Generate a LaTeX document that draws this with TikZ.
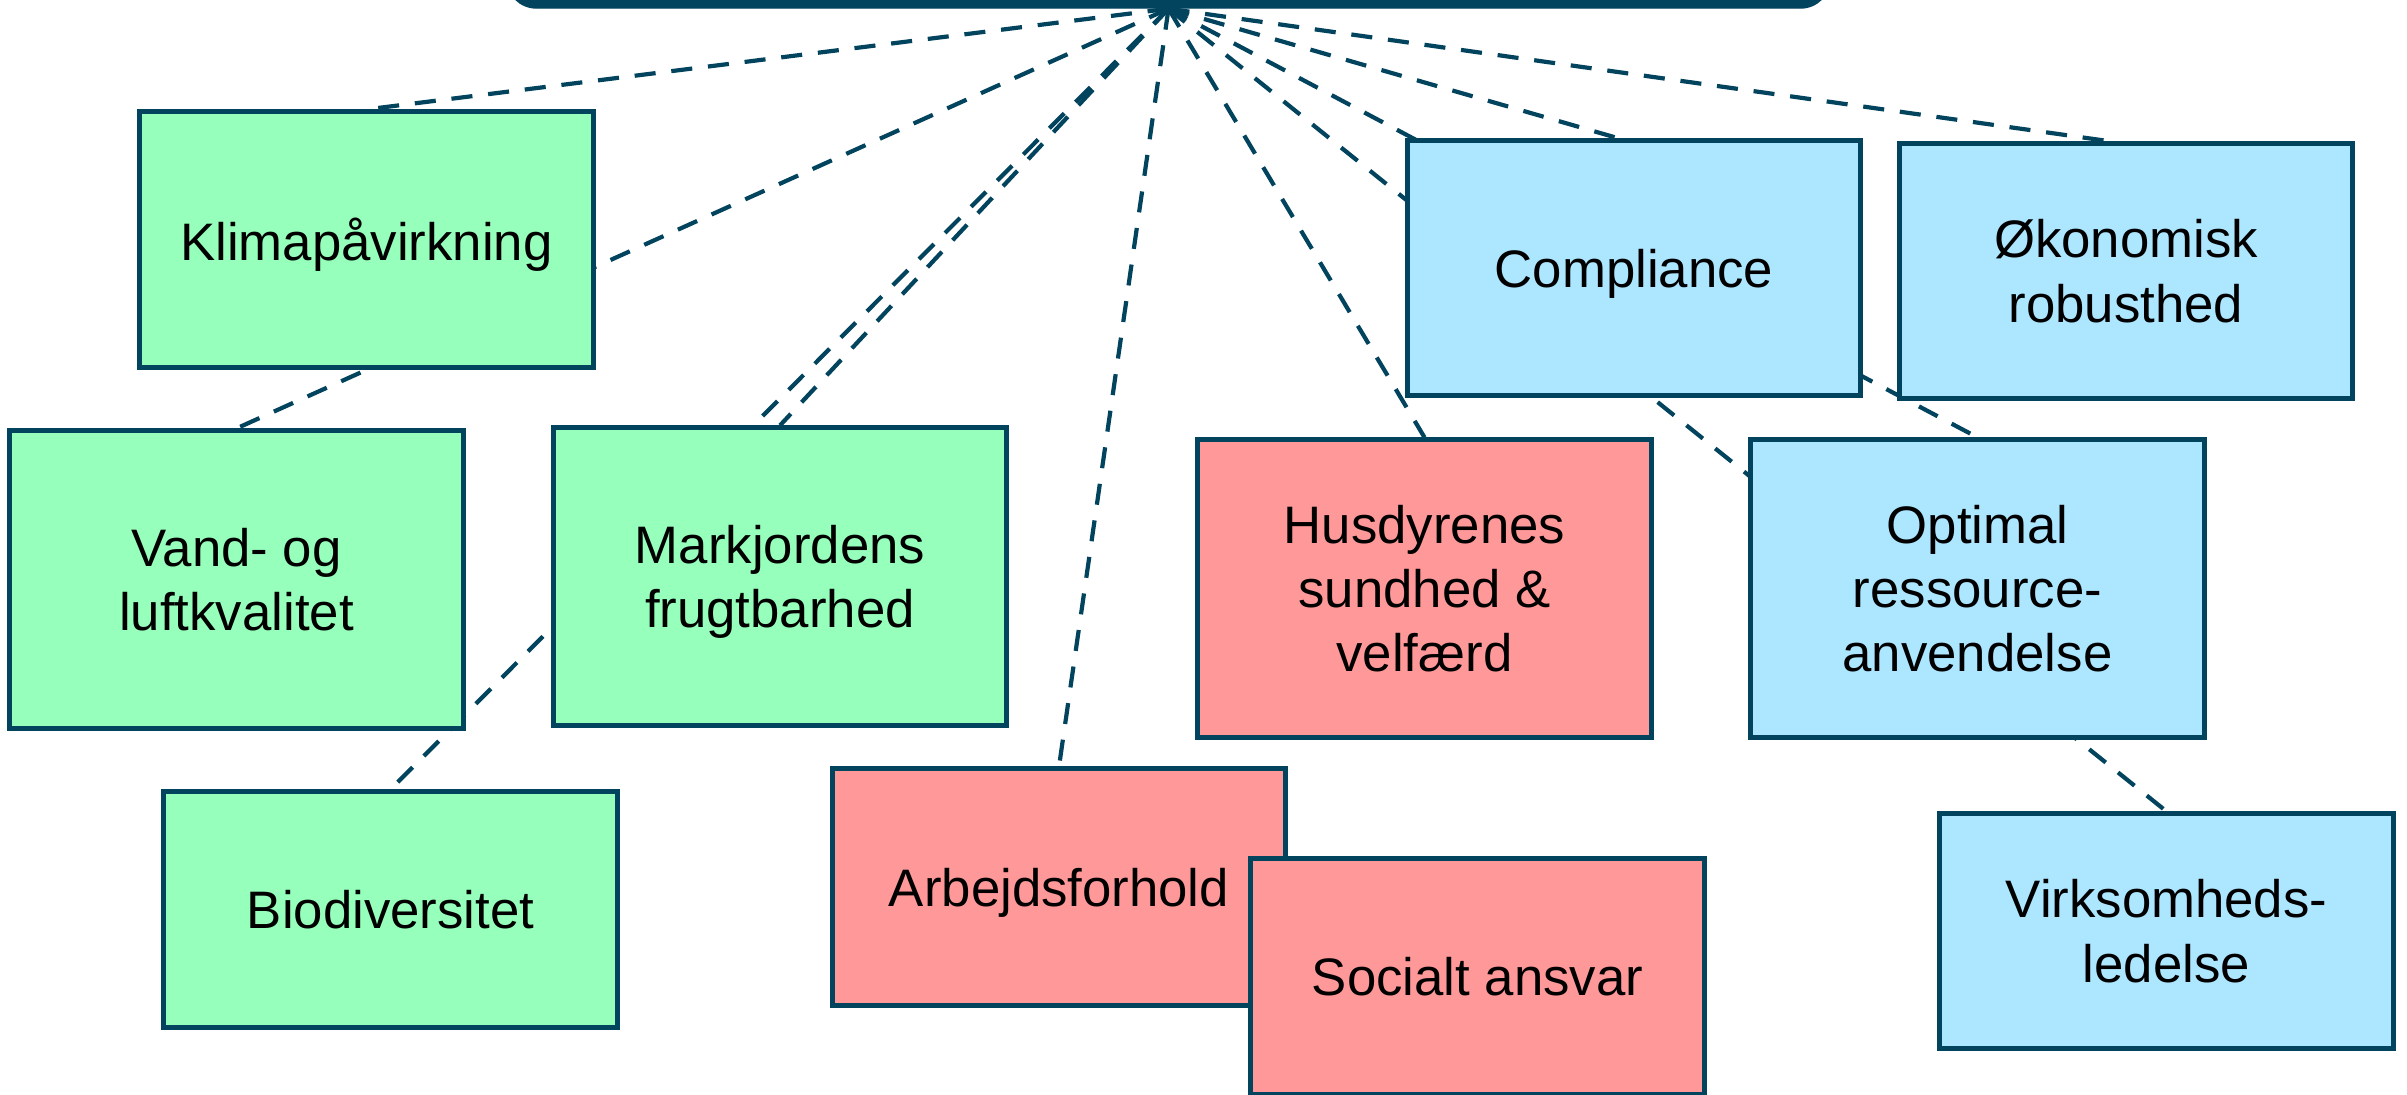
\documentclass[tikz,border=0pt]{standalone}
\usepackage{fontspec}
\setmainfont{Liberation Sans}
\usetikzlibrary{backgrounds,calc}
\definecolor{edgeblue}{HTML}{02445E}
\definecolor{envgreen}{HTML}{96FFBB}
\definecolor{socred}{HTML}{FF9999}
\definecolor{ecoblue}{HTML}{ADE6FF}
\begin{document}
\begin{tikzpicture}[x=0.01cm,y=-0.01cm,
  box/.style={draw=edgeblue, line width=0.05cm, rectangle, minimum width=4.53cm,
    inner sep=2pt, align=center, text depth=0pt, font=\fontsize{15}{18.3}\selectfont, text=black},
  env/.style={box, fill=envgreen},
  socbox/.style={box, fill=socred},
  eco/.style={box, fill=ecoblue},
  conn/.style={draw=edgeblue, line width=0.042cm, dash pattern=on 6pt off 4.5pt}]

\useasboundingbox (0,0) rectangle (2407,1094);

\node[draw=edgeblue, fill=edgeblue, rounded corners=0.3cm, minimum width=13.23cm,
      minimum height=1.2cm, inner sep=0pt] (hub) at (1168.5,-52) {};

\node[env, minimum height=2.55cm] (klima) at (366.5,239.5) {Klimapåvirkning};
\node[env, minimum height=2.97cm] (vand) at (236.5,579.5) {Vand- og\\luftkvalitet};
\node[env, minimum height=2.97cm] (mark) at (780,576.5) {Markjordens\\frugtbarhed};
\node[env, minimum height=2.35cm] (bio) at (390.5,909.5) {Biodiversitet};

\node[socbox, minimum height=2.36cm] (arb) at (1059,887) {Arbejdsforhold};
\node[socbox, minimum height=2.35cm] (soc) at (1477.5,976.5) {Socialt ansvar};
\node[socbox, minimum height=2.97cm] (hus) at (1424.5,588.5) {Husdyrenes\\sundhed \&\\velfærd};

\node[eco, minimum height=2.54cm] (comp) at (1634,268) {Compliance};
\node[eco, minimum height=2.54cm] (oko) at (2126,271) {Økonomisk\\robusthed};
\node[eco, minimum height=2.97cm] (opt) at (1977.5,588.5) {Optimal\\ressource-\\anvendelse};
\node[eco, minimum height=2.34cm] (virk) at (2166.5,931) {Virksomheds-\\ledelse};

\begin{pgfonlayer}{background}
\draw[conn] (hub.south) -- (klima.north);
\draw[conn] (hub.south) -- (vand.north);
\draw[conn] (hub.south) -- (mark.north);
\draw[conn] (hub.south) -- (bio.north);
\draw[conn] (hub.south) -- (arb.north);
\draw[conn] (hub.south) -- (hus.north);
\draw[conn] (hub.south) -- ($(comp.north west)!0.467!(comp.north east)$);
\draw[conn] (hub.south) -- ($(oko.north west)!0.467!(oko.north east)$);
\draw[conn] (hub.south) -- (opt.north);
\draw[conn] (hub.south) -- (virk.north);
\end{pgfonlayer}
\end{tikzpicture}
\end{document}
